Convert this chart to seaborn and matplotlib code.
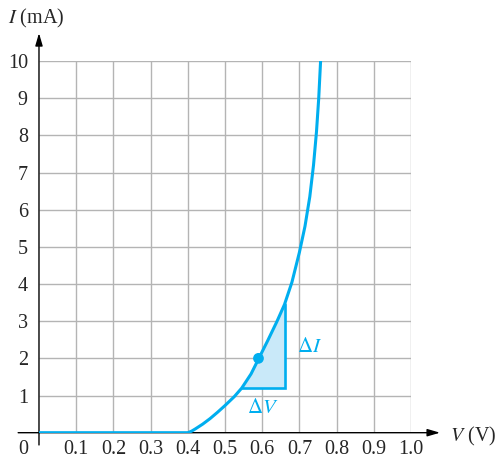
import matplotlib
matplotlib.use("Agg")
import matplotlib.pyplot as plt
import seaborn as sns
import pandas as pd

# Values
volts = [0.0, 0.400, 0.410, 0.420, 0.440, 0.460, 0.480, 0.500, 0.525, 0.545,
         0.570, 0.590, 0.615, 0.640, 0.660, 0.680, 0.700, 0.715, 0.728,
         0.738, 0.746, 0.752, 0.757]
milliamps = [0.0, 0.0, 0.04, 0.10, 0.23, 0.38, 0.55, 0.73, 0.97, 1.20,
             1.58, 1.98, 2.48, 3.00, 3.45, 4.05, 4.85, 5.55, 6.35,
             7.20, 8.10, 9.00, 10.0]
x_ticks = [0.1, 0.2, 0.3, 0.4, 0.5, 0.6, 0.7, 0.8, 0.9, 1.0]
x_labels = ["0.1", "0.2", "0.3", "0.4", "0.5", "0.6", "0.7", "0.8", "0.9", "1.0"]
y_ticks = [1, 2, 3, 4, 5, 6, 7, 8, 9, 10]
y_labels = ["1", "2", "3", "4", "5", "6", "7", "8", "9", "10"]
q_point = (0.590, 2.0)          # operating point
tri_v = (0.545, 0.660)          # Delta V span
tri_i = (1.20, 3.45)            # Delta I span

CYAN = "#00aeef"
FILL = "#c9e9f9"
GRID = "#b4b4b4"
FS = 14.5

sns.set_style("white")
plt.rcParams['font.family'] = ['Liberation Serif', 'DejaVu Serif']
plt.rcParams['mathtext.fontset'] = 'stix'

df = pd.DataFrame({"V": volts, "I": milliamps})

fig = plt.figure(figsize=(4.96, 4.61), dpi=100)
ax = fig.add_axes([0.0786, 0.0614, 0.75, 0.8063])
ax.set_xlim(0, 1.0)
ax.set_ylim(0, 10)
for s in ax.spines.values():
    s.set_visible(False)

# grid only inside the 0..1 V, 0..10 mA box
ax.vlines(x_ticks, 0, 10, color=GRID, lw=1.0, zorder=1)
ax.hlines(y_ticks, 0, 1.0, color=GRID, lw=1.0, zorder=1)

# shaded Delta triangle under the curve
tri = df[(df.V >= tri_v[0]) & (df.V <= tri_v[1])]
ax.fill_between(tri.V, tri_i[0], tri.I, color=FILL, zorder=2, lw=0)
ax.plot([tri_v[0], tri_v[1], tri_v[1]], [tri_i[0], tri_i[0], tri_i[1]],
        color=CYAN, lw=1.9, zorder=3, solid_joinstyle='miter')

# axes with arrows
arrow = dict(arrowstyle="-|>,head_length=0.75,head_width=0.22",
             color="black", lw=1.0, shrinkA=0, shrinkB=0)
ax.annotate("", xy=(1.078, 0), xytext=(-0.056, 0), annotation_clip=False,
            arrowprops=arrow, zorder=4)
ax.annotate("", xy=(0, 10.75), xytext=(0, -0.33), annotation_clip=False,
            arrowprops=arrow, zorder=4)

sns.lineplot(data=df, x="V", y="I", color=CYAN, lw=2.2, ax=ax, zorder=5,
             sort=False, estimator=None)
sns.scatterplot(x=[q_point[0]], y=[q_point[1]], color=CYAN, s=60, ax=ax,
                zorder=6, edgecolor="none")

ax.set_xticks(x_ticks, x_labels)
ax.set_yticks(y_ticks, y_labels)
ax.tick_params(axis='x', length=0, pad=5, labelsize=FS)
ax.tick_params(axis='y', length=0, pad=8, labelsize=FS)
ax.set_xlabel("")
ax.set_ylabel("")

ax.text(-0.043, -0.45, "0", fontsize=FS, ha="center", va="center")
ax.text(-0.083, 11.15, r"$I$ (mA)", fontsize=FS, ha="left", va="center")
ax.text(1.105, -0.1, r"$V$ (V)", fontsize=FS, ha="left", va="center")
ax.text(0.728, 2.3, r"$\Delta I$", fontsize=FS + 0.5, color=CYAN, ha="center", va="center")
ax.text(0.602, 0.66, r"$\Delta V$", fontsize=FS + 0.5, color=CYAN, ha="center", va="center")

fig.savefig("out.png", dpi=100)
